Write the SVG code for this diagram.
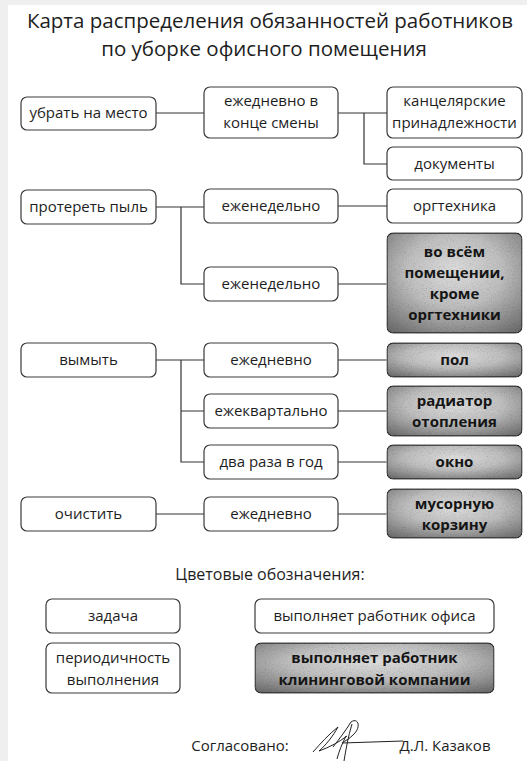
<svg xmlns="http://www.w3.org/2000/svg" width="527" height="761" viewBox="0 0 527 761">
<style>
text{font-family:"Open Sans","Noto Sans","DejaVu Sans",sans-serif;fill:#1e1e1e;text-anchor:middle;font-size:15px}
.b{font-weight:bold;fill:#151515}
.box{fill:#fff;stroke:#3a3a3a;stroke-width:1.2}
.dk{fill:url(#dkg);stroke:#2e2e2e;stroke-width:1.3;filter:url(#grain)}
.ln{fill:none;stroke:#333;stroke-width:1.2}
.ttl{font-size:20.5px}
</style>
<defs>
<radialGradient id="dkg" cx="0.5" cy="0.38" r="0.8">
<stop offset="0" stop-color="#dcdcdc"/>
<stop offset="0.45" stop-color="#bdbdbd"/>
<stop offset="1" stop-color="#636363"/>
</radialGradient>
<filter id="grain" x="-2%" y="-2%" width="104%" height="104%">
<feTurbulence type="fractalNoise" baseFrequency="0.95" numOctaves="2" seed="4" result="n"/>
<feColorMatrix in="n" type="matrix" values="0.33 0.33 0.33 0 0 0.33 0.33 0.33 0 0 0.33 0.33 0.33 0 0 0 0 0 0 1" result="g"/>
<feComponentTransfer in="g" result="g2">
<feFuncR type="linear" slope="1.1" intercept="0.45"/>
<feFuncG type="linear" slope="1.1" intercept="0.45"/>
<feFuncB type="linear" slope="1.1" intercept="0.45"/>
</feComponentTransfer>
<feBlend in="SourceGraphic" in2="g2" mode="multiply" result="m"/>
<feComposite in="m" in2="SourceGraphic" operator="in"/>
</filter>
</defs>
<rect x="0" y="0" width="527" height="761" fill="#efefef"/>
<rect x="8" y="5" width="519" height="756" fill="#fff"/>
<text class="ttl" x="270" y="28">Карта распределения обязанностей работников</text>
<text class="ttl" x="264" y="56">по уборке офисного помещения</text>

<g id="connectors">
<path class="ln" d="M156,113H204M338,113H387M364,113V164H387"/>
<path class="ln" d="M156,207H204M181,207V284H204M338,206H387M338,284H387"/>
<path class="ln" d="M156,360H204M181,360V462H204M181,411H204M338,360H387M338,411H387M338,462H387"/>
<path class="ln" d="M156,514H204M338,514H387"/>
</g>

<g id="n1"><rect class="box" x="21" y="97" width="135" height="33" rx="6"/><text x="88.5" y="118">убрать на место</text></g>
<g id="n2"><rect class="box" x="204" y="87" width="134" height="51" rx="6"/><text x="271" y="106">ежедневно в</text><text x="271" y="128">конце смены</text></g>
<g id="n3"><rect class="box" x="387" y="87" width="135" height="51" rx="6"/><text x="454.5" y="106">канцелярские</text><text x="454.5" y="128">принадлежности</text></g>
<g id="n4"><rect class="box" x="387" y="147" width="135" height="33" rx="6"/><text x="454.5" y="169">документы</text></g>

<g id="n5"><rect class="box" x="21" y="190" width="135" height="34" rx="6"/><text x="88.5" y="212">протереть пыль</text></g>
<g id="n6"><rect class="box" x="204" y="189" width="134" height="34" rx="6"/><text x="271" y="211">еженедельно</text></g>
<g id="n7"><rect class="box" x="387" y="189" width="135" height="34" rx="6"/><text x="454.5" y="211">оргтехника</text></g>
<g id="n8"><rect class="box" x="204" y="267" width="134" height="34" rx="6"/><text x="271" y="289">еженедельно</text></g>
<g id="n9"><rect class="dk" x="387" y="233" width="135" height="100" rx="6"/><text class="b" x="454.5" y="257">во всём</text><text class="b" x="454.5" y="278">помещении,</text><text class="b" x="454.5" y="299">кроме</text><text class="b" x="454.5" y="320">оргтехники</text></g>

<g id="n10"><rect class="box" x="21" y="343" width="135" height="34" rx="6"/><text x="88.5" y="365">вымыть</text></g>
<g id="n11"><rect class="box" x="204" y="343" width="134" height="34" rx="6"/><text x="271" y="365">ежедневно</text></g>
<g id="n12"><rect class="dk" x="387" y="343" width="135" height="34" rx="6"/><text class="b" x="454.5" y="365">пол</text></g>
<g id="n13"><rect class="box" x="204" y="394" width="134" height="34" rx="6"/><text x="271" y="416">ежеквартально</text></g>
<g id="n14"><rect class="dk" x="387" y="386" width="135" height="50" rx="6"/><text class="b" x="454.5" y="406">радиатор</text><text class="b" x="454.5" y="427">отопления</text></g>
<g id="n15"><rect class="box" x="204" y="445" width="134" height="34" rx="6"/><text x="271" y="467">два раза в год</text></g>
<g id="n16"><rect class="dk" x="387" y="445" width="135" height="34" rx="6"/><text class="b" x="454.5" y="467">окно</text></g>

<g id="n17"><rect class="box" x="21" y="497" width="135" height="34" rx="6"/><text x="88.5" y="519">очистить</text></g>
<g id="n18"><rect class="box" x="204" y="497" width="134" height="34" rx="6"/><text x="271" y="519">ежедневно</text></g>
<g id="n19"><rect class="dk" x="387" y="489" width="135" height="49" rx="6"/><text class="b" x="454.5" y="509">мусорную</text><text class="b" x="454.5" y="530">корзину</text></g>

<text x="270" y="580" style="font-size:16px">Цветовые обозначения:</text>
<g id="lg1"><rect class="box" x="46" y="599" width="134" height="34" rx="6"/><text x="113" y="621">задача</text></g>
<g id="lg2"><rect class="box" x="46" y="643" width="134" height="50" rx="6"/><text x="113" y="663">периодичность</text><text x="113" y="685">выполнения</text></g>
<g id="lg3"><rect class="box" x="255" y="599" width="239" height="34" rx="6"/><text x="374.5" y="621">выполняет работник офиса</text></g>
<g id="lg4"><rect class="dk" x="255" y="643" width="239" height="50" rx="6"/><text class="b" x="374.5" y="663">выполняет работник</text><text class="b" x="374.5" y="685">клининговой компании</text></g>

<g id="signature">
<text x="240" y="751">Согласовано:</text>
<path fill="none" stroke="#222" stroke-width="1" d="M313,752C320,744 329,734 338,727C333,736 326,745 319,751C330,747 339,742 347,736M333,747C340,738 346,730 351,722C358,717 362,727 353,735C349,739 345,741 342,743L403,741M344,761C346,749 348,737 352,724M337,759C339,751 342,744 346,736"/>
<text x="445" y="751">Д.Л. Казаков</text>
</g>
</svg>
